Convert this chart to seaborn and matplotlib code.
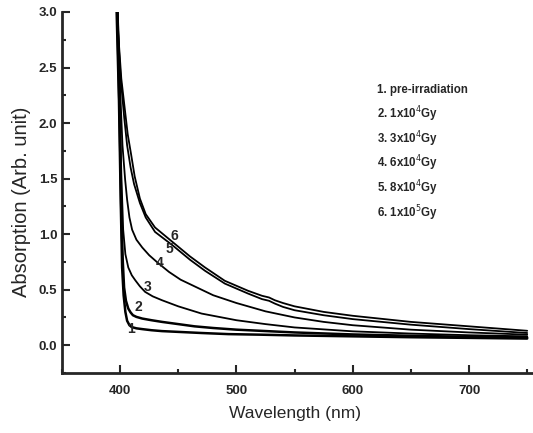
import matplotlib
matplotlib.use("Agg")
import matplotlib.pyplot as plt
import numpy as np
import pandas as pd
import seaborn as sns
from matplotlib.ticker import MultipleLocator

# --- data (wavelength nm, absorption) ---
wl_1 = [397, 399, 400.5, 401.7, 403, 404.5, 406, 408, 410, 414, 419, 427, 436, 450, 470, 493, 520, 550, 600, 650, 700, 750]
ab_1 = [3.0, 2.2, 1.3, 0.7, 0.45, 0.3, 0.22, 0.18, 0.163, 0.152, 0.145, 0.135, 0.127, 0.12, 0.11, 0.10, 0.095, 0.088, 0.08, 0.072, 0.066, 0.06]

wl_2 = [397.5, 399.5, 401, 402.3, 403.4, 405, 407, 409, 411, 414, 419, 427, 436, 450, 464, 480, 500, 550, 600, 650, 700, 750]
ab_2 = [3.0, 2.1, 1.2, 0.75, 0.52, 0.4, 0.33, 0.295, 0.27, 0.255, 0.24, 0.225, 0.21, 0.19, 0.17, 0.155, 0.14, 0.115, 0.097, 0.085, 0.076, 0.07]

wl_3 = [398, 399.5, 401, 402.6, 404.5, 407, 410, 413, 417, 421.5, 428, 436, 450, 470, 500, 525, 550, 600, 650, 700, 750]
ab_3 = [3.0, 2.3, 1.55, 1.04, 0.82, 0.70, 0.63, 0.585, 0.53, 0.48, 0.44, 0.405, 0.35, 0.285, 0.225, 0.19, 0.16, 0.125, 0.105, 0.09, 0.08]

wl_4 = [398, 400, 402, 404.3, 406, 408, 410.3, 414, 419, 425, 432.6, 442, 452, 464, 480, 500, 525, 550, 575, 600, 650, 700, 750]
ab_4 = [3.0, 2.3, 1.8, 1.49, 1.31, 1.15, 1.04, 0.95, 0.88, 0.81, 0.74, 0.66, 0.59, 0.53, 0.45, 0.38, 0.305, 0.25, 0.21, 0.18, 0.14, 0.115, 0.095]

wl_5 = [397.3, 398.5, 400.5, 403.5, 406, 409, 412, 417, 422, 430, 445, 460, 473, 490, 510, 522, 528, 533, 540, 550, 575, 600, 650, 700, 750]
ab_5 = [3.0, 2.75, 2.4, 2.05, 1.8, 1.6, 1.45, 1.28, 1.15, 1.02, 0.90, 0.77, 0.67, 0.555, 0.465, 0.415, 0.40, 0.375, 0.345, 0.315, 0.27, 0.235, 0.185, 0.145, 0.11]

wl_6 = [397.3, 398.7, 401, 404.3, 406.5, 409.4, 412.5, 417, 422, 430, 445, 460, 473, 490, 510, 522, 528, 533, 540, 550, 575, 600, 650, 700, 750]
ab_6 = [3.0, 2.75, 2.4, 2.1, 1.9, 1.72, 1.52, 1.32, 1.18, 1.06, 0.93, 0.80, 0.70, 0.58, 0.49, 0.445, 0.43, 0.405, 0.38, 0.35, 0.30, 0.265, 0.21, 0.17, 0.13]

legend_lines = ["1. pre-irradiation", "2. 1x10$^4$Gy", "3. 3x10$^4$Gy",
                "4. 6x10$^4$Gy", "5. 8x10$^4$Gy", "6. 1x10$^5$Gy"]
curve_tags = ["1", "2", "3", "4", "5", "6"]
tag_x = [409.5, 416, 424, 434, 442.5, 447]
tag_y = [0.15, 0.34, 0.52, 0.74, 0.87, 0.98]

curves = [(wl_1, ab_1), (wl_2, ab_2), (wl_3, ab_3), (wl_4, ab_4), (wl_5, ab_5), (wl_6, ab_6)]

sns.set_style("ticks")
plt.rcParams['font.family'] = ['Liberation Sans', 'DejaVu Sans']

fig = plt.figure(figsize=(5.33, 4.33), dpi=100)
ax = fig.add_axes([0.1163, 0.1386, 0.8837, 0.8337])

for i, (w, a) in enumerate(curves):
    df = pd.DataFrame({"wl": w, "ab": a})
    lw = 1.8 if i < 2 else 1.3
    sns.lineplot(data=df, x="wl", y="ab", color="black", lw=lw, ax=ax, sort=False)

for t, tx, ty in zip(curve_tags, tag_x, tag_y):
    ax.text(tx, ty, t, fontsize=10, fontweight="bold", ha="center", va="center")

for k, s in enumerate(legend_lines):
    ax.text(0.669, 0.784 - k * 0.068, s, transform=ax.transAxes, fontsize=8.3,
            fontweight="bold", ha="left", va="center")

ax.set_xlim(350, 755)
ax.set_ylim(-0.25, 3.0)
ax.xaxis.set_major_locator(MultipleLocator(100))
ax.xaxis.set_minor_locator(MultipleLocator(50))
ax.yaxis.set_major_locator(MultipleLocator(0.5))
ax.yaxis.set_minor_locator(MultipleLocator(0.25))
ax.set_xticks([400, 500, 600, 700])
ax.tick_params(which="both", direction="in", width=1.5)
ax.tick_params(which="major", length=6, labelsize=9.5)
ax.tick_params(axis="x", which="major", pad=9)
ax.tick_params(which="minor", length=3)
for lab in ax.get_xticklabels() + ax.get_yticklabels():
    lab.set_fontweight("bold")

sns.despine(ax=ax)
ax.spines["left"].set_linewidth(2)
ax.spines["bottom"].set_linewidth(2)

ax.set_xlabel("Wavelength (nm)", fontsize=12.5)
ax.set_ylabel("Absorption (Arb. unit)", fontsize=14.5)
ax.xaxis.set_label_coords(0.495, -0.111)
ax.yaxis.set_label_coords(-0.085, 0.474)
ax.xaxis.label.set_va("center")
ax.yaxis.label.set_va("center")

fig.savefig("out.png", dpi=100)
